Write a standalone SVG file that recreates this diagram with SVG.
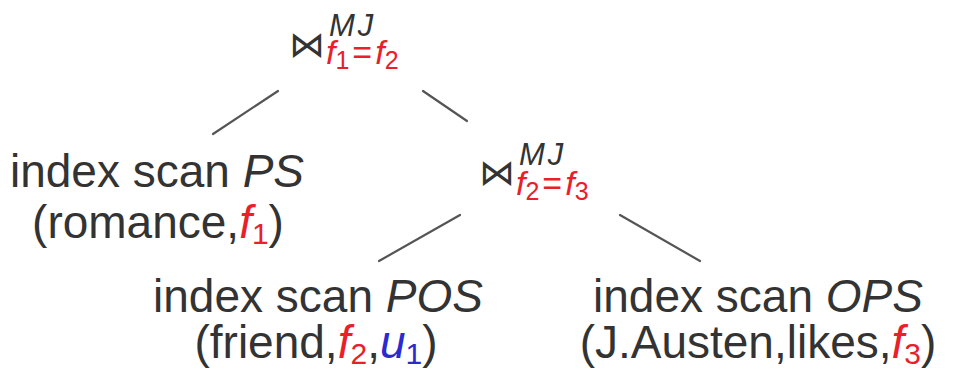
<svg xmlns="http://www.w3.org/2000/svg" width="953" height="386" viewBox="0 0 953 386">
<style>
.t{font-family:"Liberation Sans",Arial,sans-serif;font-size:46px;fill:#333}
.i{font-style:italic}
.r{fill:#e8202a}
.b{fill:#2a2ad0}
.sub{font-size:30px}
.mj{font-family:"Liberation Sans",Arial,sans-serif;font-size:31px;font-style:italic;fill:#333;letter-spacing:3px}
.eq{font-family:"Liberation Sans",Arial,sans-serif;font-size:34px;font-style:italic;fill:#e8202a}
.es{font-size:25px;font-style:normal}
.en{font-style:normal}
.bt{font-family:"DejaVu Sans",sans-serif;font-size:36px;fill:#333}
.e{stroke:#555;stroke-width:2.2;stroke-linecap:round;fill:none}
</style>
<rect width="953" height="386" fill="#fff"/>
<g id="connectors">
<line class="e" x1="278" y1="91" x2="213" y2="134"/>
<line class="e" x1="423" y1="91" x2="467" y2="121"/>
<line class="e" x1="460" y1="215" x2="379" y2="261"/>
<line class="e" x1="620" y1="215" x2="700" y2="261"/>
</g>
<g id="join1">
<text class="bt" x="289" y="57">⋈</text>
<text class="mj" x="329" y="36">MJ</text>
<text class="eq" x="326" y="64">f<tspan class="es" dy="5">1</tspan><tspan class="en" dx="3" dy="-5">=</tspan><tspan dx="3">f</tspan><tspan class="es" dy="5">2</tspan></text>
</g>
<g id="join2">
<text class="bt" x="479" y="185">⋈</text>
<text class="mj" x="519" y="165">MJ</text>
<text class="eq" x="516" y="195">f<tspan class="es" dy="5">2</tspan><tspan class="en" dx="3" dy="-5">=</tspan><tspan dx="3">f</tspan><tspan class="es" dy="5">3</tspan></text>
</g>
<g id="scanPS">
<text class="t" x="157" y="187" text-anchor="middle">index scan <tspan class="i">PS</tspan></text>
<text class="t" x="158" y="238" text-anchor="middle">(romance,<tspan class="i r">f</tspan><tspan class="r sub" dy="6">1</tspan><tspan dy="-6">)</tspan></text>
</g>
<g id="scanPOS">
<text class="t" x="318" y="312" text-anchor="middle">index scan <tspan class="i">POS</tspan></text>
<text class="t" x="316" y="358" text-anchor="middle">(friend,<tspan class="i r">f</tspan><tspan class="r sub" dy="6">2</tspan><tspan dy="-6">,</tspan><tspan class="i b">u</tspan><tspan class="b sub" dy="6">1</tspan><tspan dy="-6">)</tspan></text>
</g>
<g id="scanOPS">
<text class="t" x="758" y="312" text-anchor="middle">index scan <tspan class="i">OPS</tspan></text>
<text class="t" x="758" y="358" text-anchor="middle">(J.Austen,likes,<tspan class="i r">f</tspan><tspan class="r sub" dy="6">3</tspan><tspan dy="-6">)</tspan></text>
</g>
</svg>
